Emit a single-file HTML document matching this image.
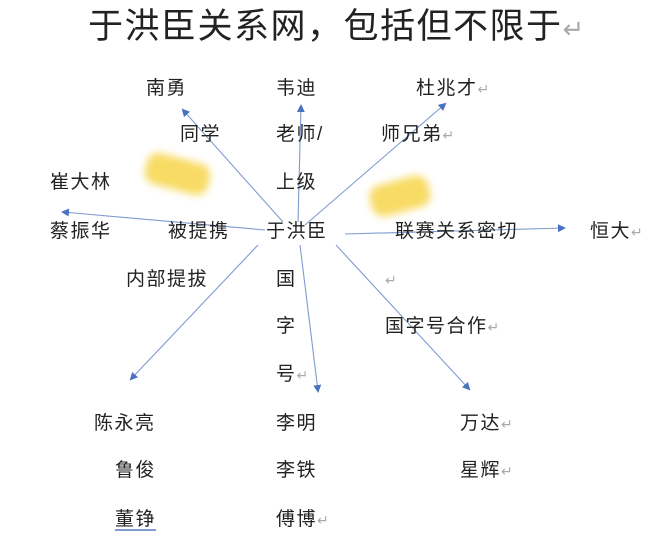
<!DOCTYPE html>
<html><head><meta charset="utf-8"><style>
body{margin:0;width:660px;height:537px;background:#fff;position:relative;overflow:hidden;font-family:"Liberation Sans","Noto Sans CJK SC",sans-serif;color:#222}
.t{position:absolute;font-size:19px;line-height:20px;letter-spacing:1.5px;white-space:nowrap}
.r{color:#aaa;font-size:14px;letter-spacing:0}
.blur{position:absolute;border-radius:12px;background:#f7d54a;filter:blur(4px);opacity:.85}
</style></head><body>
<div class="t" style="left:88px;top:8px;font-size:35px;line-height:38px;letter-spacing:1.5px">于洪臣关系网，包括但不限于<span class="r" style="font-size:26px">↵</span></div>
<div class="blur" style="left:145px;top:158px;width:65px;height:32px;transform:rotate(15deg)"></div>
<div class="blur" style="left:370px;top:180px;width:60px;height:32px;transform:rotate(-15deg)"></div>
<svg width="660" height="537" style="position:absolute;left:0;top:0">
<defs><marker id="a" markerWidth="8" markerHeight="8" refX="6" refY="4" orient="auto" markerUnits="userSpaceOnUse"><path d="M0,0 L8,4 L0,8 z" fill="#4a72c0"/></marker></defs>
<g stroke="#7f9bd0" stroke-width="1.1" fill="none" marker-end="url(#a)">
<line x1="283" y1="222" x2="183" y2="110"/>
<line x1="298" y1="222" x2="301" y2="106"/>
<line x1="305" y1="225" x2="445" y2="104"/>
<line x1="265" y1="230" x2="63" y2="212"/>
<line x1="345" y1="234" x2="564" y2="228"/>
<line x1="258" y1="245" x2="131" y2="379"/>
<line x1="300" y1="245" x2="318" y2="391"/>
<line x1="336" y1="245" x2="469" y2="389"/>
</g></svg>
<div class="t" style="left:146px;top:79px">南勇</div>
<div class="t" style="left:276px;top:79px">韦迪</div>
<div class="t" style="left:416px;top:79px">杜兆才<span class="r">↵</span></div>
<div class="t" style="left:180px;top:125px">同学</div>
<div class="t" style="left:276px;top:125px">老师/</div>
<div class="t" style="left:381px;top:125px">师兄弟<span class="r">↵</span></div>
<div class="t" style="left:50px;top:173px">崔大林</div>
<div class="t" style="left:276px;top:173px">上级</div>
<div class="t" style="left:50px;top:222px">蔡振华</div>
<div class="t" style="left:168px;top:222px">被提携</div>
<div class="t" style="left:266px;top:222px">于洪臣</div>
<div class="t" style="left:395px;top:222px">联赛关系密切</div>
<div class="t" style="left:590px;top:222px">恒大<span class="r">↵</span></div>
<div class="t" style="left:126px;top:270px">内部提拔</div>
<div class="t" style="left:276px;top:270px">国</div>
<div class="t r" style="left:385px;top:270px">↵</div>
<div class="t" style="left:276px;top:317px">字</div>
<div class="t" style="left:385px;top:317px">国字号合作<span class="r">↵</span></div>
<div class="t" style="left:276px;top:365px">号<span class="r">↵</span></div>
<div class="t" style="left:94px;top:414px">陈永亮</div>
<div class="t" style="left:276px;top:414px">李明</div>
<div class="t" style="left:460px;top:414px">万达<span class="r">↵</span></div>
<div class="t" style="left:115px;top:461px">鲁俊</div>
<div class="t" style="left:276px;top:461px">李铁</div>
<div class="t" style="left:460px;top:461px">星辉<span class="r">↵</span></div>
<div class="t" style="left:115px;top:510px;border-bottom:2px double #7f9bd0;line-height:19px">董铮</div>
<div class="t" style="left:276px;top:510px">傅博<span class="r">↵</span></div>
</body></html>
